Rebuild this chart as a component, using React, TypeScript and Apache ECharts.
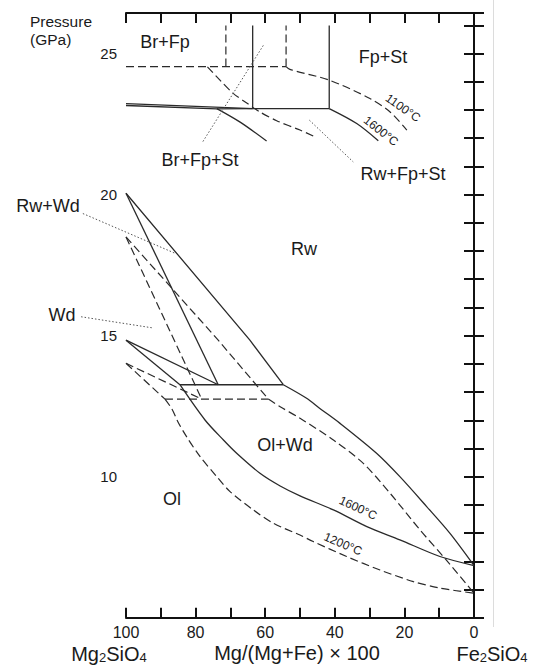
import React, { useEffect, useRef } from 'react';
import * as echarts from 'echarts';

// ---------- Axis ticks ----------
const xTicksLabelled = [100, 80, 60, 40, 20, 0];
const yTicksLabelled = [10, 15, 20, 25];

// ---------- Upper (Br / Fp / St) region ----------
const brFpBottom1100 = [[100, 24.54], [54.0, 24.54]];
const brFpVertA = [[71.3, 24.54], [71.3, 26.0]];
const brFpVertB = [[54.0, 24.54], [54.0, 26.0]];
const curve1100Right = [[54.0, 24.54], [52.9, 24.44], [41.6, 24.06], [29.9, 23.41], [24.1, 22.93], [19.3, 22.29]];
const curve1100Left = [[76.6, 24.53], [73.0, 24.06], [69.2, 23.59], [65.3, 23.25], [61.5, 22.93], [56.7, 22.62], [50.0, 22.29], [46.2, 22.08]];
const solidVertA = [[63.6, 26.0], [63.6, 23.05]];
const solidVertB = [[41.6, 26.0], [41.6, 23.05]];
const solidTie23 = [[63.6, 23.05], [41.6, 23.05]];
const brFpStUpper = [[100, 23.23], [63.6, 23.05]];
const brFpStLower = [[100, 23.16], [73.9, 23.04], [63.6, 23.05]];
const curve1600LeftTop = [[73.9, 23.05], [67.2, 22.57], [59.6, 21.9]];
const curve1600RightTop = [[41.6, 23.05], [33.7, 22.52], [27.5, 21.91]];

// ---------- 1600 °C (solid) ----------
const rw1600Upper = [[100, 20.05], [64.4, 14.84], [54.8, 13.26]];
const rw1600Lower = [[54.8, 13.26], [48.1, 12.78], [44.3, 12.42], [38.5, 11.89], [28.0, 10.83], [21.3, 10.0], [13.6, 8.94], [6.9, 7.99], [0, 6.85]];
const wd1600Rw = [[100, 20.05], [73.5, 13.26]];
const wd1600Ol = [[100, 14.84], [73.5, 13.26]];
const ol1600Upper = [[100, 14.84], [84.5, 13.26]];
const ol1600Lower = [[84.5, 13.26], [77.3, 12.01], [72.0, 11.30], [68.2, 10.83], [61.5, 10.12], [55.7, 9.67], [50.0, 9.32], [40.4, 8.82], [30.8, 8.23], [21.3, 7.76], [9.8, 7.17], [0, 6.85]];
const tie1600 = [[84.5, 13.26], [54.8, 13.26]];

// ---------- 1200 °C (dashed) ----------
const rw1200Upper = [[100, 18.5], [73.5, 14.84], [59.1, 12.75]];
const rw1200Lower = [[59.1, 12.75], [55.7, 12.48], [50.0, 12.07], [40.4, 11.30], [31.8, 10.47], [24.1, 9.41], [15.5, 8.11], [8.0, 7.05], [0, 5.87]];
const wd1200Rw = [[100, 18.5], [78.25, 12.75]];
const wd1200Ol = [[100, 14.02], [78.25, 12.75]];
const ol1200Upper = [[100, 14.02], [88.8, 12.75]];
const ol1200Lower = [[88.8, 12.75], [86.8, 12.4], [85.06, 11.94], [82.6, 11.42], [78.7, 10.71], [73.9, 10.0], [70.1, 9.47], [63.4, 8.82], [57.7, 8.35], [50.0, 7.93], [46.2, 7.70], [36.6, 7.17], [27.0, 6.69], [17.4, 6.28], [9.8, 6.05], [0, 5.87]];
const tie1200 = [[88.8, 12.75], [59.1, 12.75]];

// ---------- Dotted label pointers ----------
const ptrBrFpSt = [[60.55, 25.29], [77.96, 21.87]];
const ptrRwFpSt = [[47.3, 22.64], [34.7, 21.16]];
const ptrRwWd = [[112.4, 19.33], [85.9, 17.92]];
const ptrWd = [[112.9, 15.67], [92.6, 15.28]];

const FONT = "'Liberation Sans', Arial, Helvetica, sans-serif";
const INK = '#2a2a2a';

export default function App() {
  const ref = useRef<HTMLDivElement>(null);
  useEffect(() => {
    const chart = echarts.init(ref.current as HTMLDivElement, null, { renderer: 'svg' });

    const base = (data: number[][], smooth: boolean) => ({
      type: 'line',
      data,
      symbol: 'none',
      smooth: smooth ? 0.3 : false,
      silent: true,
    });
    const solid = (data: number[][], smooth = false) => ({
      ...base(data, smooth),
      lineStyle: { color: INK, width: 1.3, type: 'solid' },
    });
    const dashed = (data: number[][], smooth = false) => ({
      ...base(data, smooth),
      lineStyle: { color: INK, width: 1.2, type: [8, 4] },
    });
    const dotted = (data: number[][]) => ({
      ...base(data, false),
      lineStyle: { color: '#555', width: 1, type: [1.5, 2] },
    });

    const axisLine = { lineStyle: { color: '#111', width: 2 } };
    const axisTick = { inside: true, length: 10, lineStyle: { color: '#111', width: 2 } };

    const label = (text: string, x: number, y: number, fontSize = 18, rotDeg = 0, align = 'center') => ({
      type: 'text',
      x,
      y,
      rotation: (-rotDeg * Math.PI) / 180,
      silent: true,
      style: {
        text,
        fontSize,
        fontFamily: FONT,
        fill: '#1a1a1a',
        align,
        textAlign: align,
        verticalAlign: 'middle',
        textVerticalAlign: 'middle',
      },
    });

    const chem = (a: string, x: number, y: number) => ({
      type: 'text',
      x,
      y,
      silent: true,
      style: {
        text: `{m|${a}}{s|2}{m|SiO}{s|4}`,
        fontFamily: FONT,
        fill: '#1a1a1a',
        align: 'center',
        textAlign: 'center',
        verticalAlign: 'middle',
        textVerticalAlign: 'middle',
        rich: {
          m: { fontSize: 20, fontFamily: FONT, lineHeight: 20, verticalAlign: 'middle' },
          s: { fontSize: 13, fontFamily: FONT, lineHeight: 10, verticalAlign: 'bottom' },
        },
      },
    });

    chart.setOption({
      animation: false,
      textStyle: { fontFamily: FONT },
      grid: { left: 126, right: 60, top: 13, bottom: 47.3 },
      xAxis: [
        {
          type: 'value', min: 0, max: 100, interval: 10, inverse: true, position: 'bottom',
          axisLine, axisTick, splitLine: { show: false },
          axisLabel: {
            fontSize: 16, color: '#1a1a1a', margin: 7, fontFamily: FONT, lineHeight: 16,
            formatter: (v: number) => (xTicksLabelled.includes(v) ? String(v) : ''),
          },
        },
        {
          type: 'value', min: 0, max: 100, interval: 10, inverse: true, position: 'top',
          axisLine, axisTick, splitLine: { show: false }, axisLabel: { show: false },
        },
      ],
      yAxis: [
        {
          type: 'value', min: 5, max: 26.44, interval: 1, position: 'left',
          axisLine, axisTick, splitLine: { show: false },
          axisLabel: {
            fontSize: 15, color: '#1a1a1a', margin: 9, fontFamily: FONT, padding: [5, 0, 0, 0],
            formatter: (v: number) => (yTicksLabelled.includes(v) ? String(v) : ''),
          },
        },
        {
          type: 'value', min: 5, max: 26.44, interval: 1, position: 'right',
          axisLine, axisTick, splitLine: { show: false }, axisLabel: { show: false },
        },
      ],
      series: [
        dashed(brFpBottom1100),
        dashed(brFpVertA),
        dashed(brFpVertB),
        dashed(curve1100Right, true),
        dashed(curve1100Left, true),
        solid(solidVertA),
        solid(solidVertB),
        solid(solidTie23),
        solid(brFpStUpper),
        solid(brFpStLower),
        solid(curve1600LeftTop, true),
        solid(curve1600RightTop, true),
        solid(rw1600Upper),
        solid(rw1600Lower, true),
        solid(wd1600Rw),
        solid(wd1600Ol),
        solid(ol1600Upper),
        solid(ol1600Lower, true),
        solid(tie1600),
        dashed(rw1200Upper),
        dashed(rw1200Lower, true),
        dashed(wd1200Rw),
        dashed(wd1200Ol),
        dashed(ol1200Upper),
        dashed(ol1200Lower, true),
        dashed(tie1200),
        dotted(ptrBrFpSt),
        dotted(ptrRwFpSt),
      ],
    });

    // Pointers that reach outside the plot: positioned through the axes' scales
    const toPx = (p: number[]) => chart.convertToPixel({ xAxisIndex: 0, yAxisIndex: 0 }, p) as number[];
    const pointer = (pts: number[][]) => {
      const a = toPx(pts[0]);
      const b = toPx(pts[1]);
      return {
        type: 'line', silent: true,
        shape: { x1: a[0], y1: a[1], x2: b[0], y2: b[1] },
        style: { stroke: '#555', lineWidth: 1, lineDash: [1.5, 2] },
      };
    };

    chart.setOption({
      graphic: [
        {
          type: 'line', silent: true,
          shape: { x1: 493.5, y1: 0, x2: 493.5, y2: 627 },
          style: { stroke: '#dcdcdc', lineWidth: 1 },
        },
        pointer(ptrRwWd),
        pointer(ptrWd),
        label('Pressure', 30, 21, 15.5, 0, 'left'),
        label('(GPa)', 30, 39.5, 15.5, 0, 'left'),
        label('Br+Fp', 165, 42),
        label('Fp+St', 383, 57),
        label('Br+Fp+St', 200, 160),
        label('Rw+Fp+St', 403, 174),
        label('Rw', 304, 249),
        label('Rw+Wd', 48, 206),
        label('Wd', 62, 315),
        label('Ol+Wd', 285, 445),
        label('Ol', 172, 499),
        label('1100°C', 403, 108, 12, 35),
        label('1600°C', 381, 131, 12, 38),
        label('1600°C', 358, 508, 12, 25),
        label('1200°C', 343, 544, 12, 23),
        label('Mg/(Mg+Fe) × 100', 297, 653, 20),
        chem('Mg', 109, 653.5),
        chem('Fe', 492, 653.5),
      ],
    });

    return () => chart.dispose();
  }, []);

  return <div ref={ref} style={{ position: 'absolute', left: 0, top: 0, width: 534, height: 665 }} />;
}
